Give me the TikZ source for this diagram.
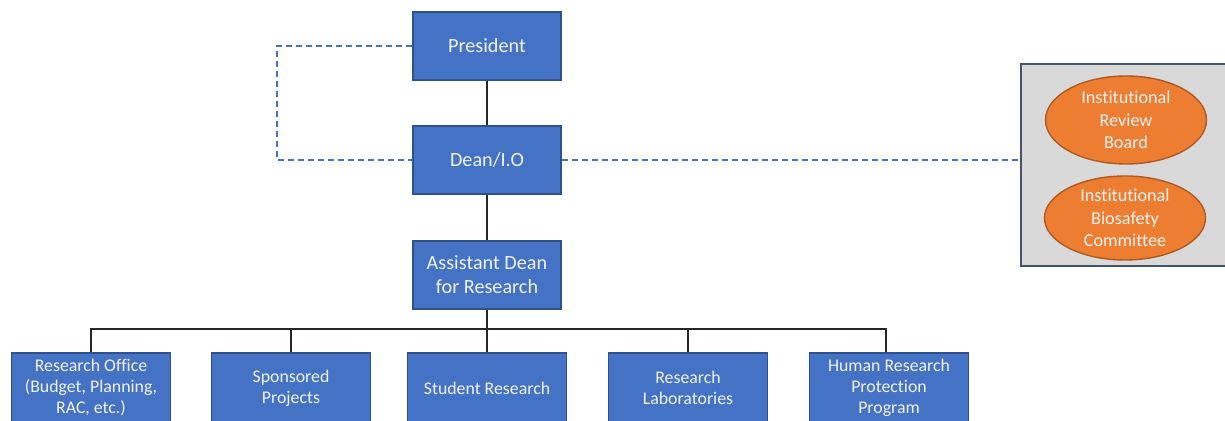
\documentclass[tikz,border=0pt]{standalone}
\usepackage{fontspec}
\setmainfont{Carlito}[Ligatures={NoCommon}]
\usetikzlibrary{shapes.geometric}
\definecolor{boxblue}{HTML}{4472C4}
\definecolor{boxedge}{HTML}{2F528F}
\definecolor{orfill}{HTML}{ED7D31}
\definecolor{oredge}{HTML}{AE5A21}
\definecolor{grayfill}{HTML}{D9D9D9}
\definecolor{grayedge}{HTML}{44546A}
\definecolor{txt}{HTML}{F2F2F2}
\tikzset{
  topbox/.style={rectangle, draw=boxedge, line width=0.7pt, fill=boxblue, text=txt,
    minimum width=74pt, minimum height=34pt, align=center, font=\fontsize{10.1}{12}\selectfont, inner sep=1pt},
  botbox/.style={rectangle, draw=boxedge, line width=0.7pt, fill=boxblue, text=txt,
    minimum width=79.5pt, minimum height=35pt, align=center, font=\fontsize{8.9}{10.5}\selectfont, inner sep=1pt},
  oval/.style={ellipse, draw=oredge, line width=0.7pt, fill=orfill, text=txt,
    minimum width=80.5pt, minimum height=44pt, align=center, font=\fontsize{9.1}{11.3}\selectfont, inner sep=0pt},
  solidline/.style={draw=black!85, line width=0.75pt},
  dashline/.style={draw=boxblue, line width=0.6pt, dash pattern=on 3pt off 2pt}
}
\begin{document}
\begin{tikzpicture}[x=0.5pt, y=-0.5pt]
\useasboundingbox (0,0) rectangle (1225,421);
\fill[white] (0,0) rectangle (1225,421);
\node[topbox] (pres) at (487,46) {President};
\node[topbox] (dean) at (487,160) {Dean/I.O};
\node[topbox] (ad) at (487,275) {Assistant Dean\\for Research};
\node[botbox] (b1) at (91,388) {Research Office\\(Budget, Planning,\\RAC, etc.)};
\node[botbox] (b2) at (291,388) {Sponsored\\Projects};
\node[botbox] (b3) at (487,388) {Student Research};
\node[botbox] (b4) at (688,388) {Research\\Laboratories};
\node[botbox] (b5) at (889,388) {Human Research\\Protection\\Program};
\node[rectangle, draw=grayedge, line width=0.7pt, fill=grayfill, minimum width=104.5pt, minimum height=101pt, inner sep=0pt] (panel) at (1125.5,165) {};
\node[oval] (irb) at (1126,120) {Institutional\\Review\\Board};
\node[oval, minimum height=42pt] (ibc) at (1125,218) {Institutional\\Biosafety\\Committee};
\coordinate (bus) at (487,329);
\coordinate (lft) at (277,160);
\draw[solidline] (pres.south) -- (dean.north);
\draw[solidline] (dean.south) -- (ad.north);
\draw[solidline] (ad.south) -- (b3.north);
\draw[solidline] (b1.north) |- (bus);
\draw[solidline] (b2.north) |- (bus);
\draw[solidline] (b4.north) |- (bus);
\draw[solidline] ([xshift=-1.5pt]b5.north) |- (bus);
\draw[dashline] (pres.west) -| (lft) -- (dean.west);
\draw[dashline] (dean.east) -- (dean.east -| panel.west);
\end{tikzpicture}
\end{document}
